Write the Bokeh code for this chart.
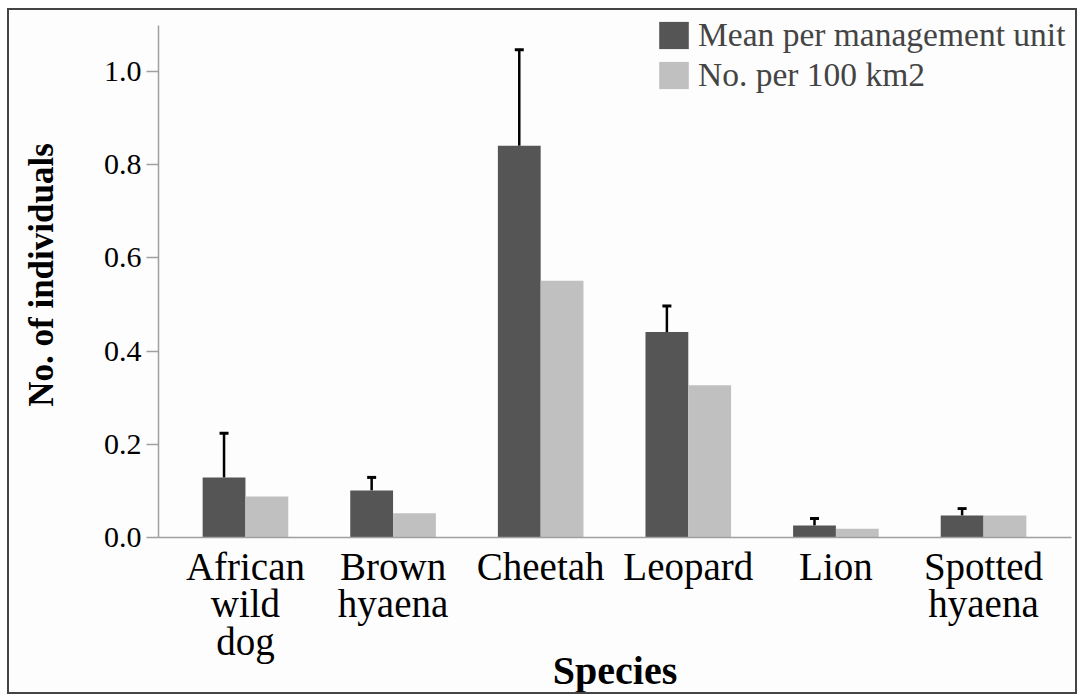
from bokeh.plotting import figure
from bokeh.models import (ColumnDataSource, FixedTicker, Legend, LegendItem, Whisker,
                          TeeHead, Range1d, PrintfTickFormatter)
from bokeh.transform import dodge
from bokeh.embed import file_html
from bokeh.resources import INLINE

# ---- data ----
species = ["African\nwild\ndog", "Brown\nhyaena", "Cheetah", "Leopard", "Lion", "Spotted\nhyaena"]
mean_per_unit = [0.129, 0.101, 0.841, 0.441, 0.026, 0.047]
mean_upper = [0.224, 0.129, 1.047, 0.497, 0.041, 0.062]
per_100km2 = [0.088, 0.052, 0.551, 0.327, 0.019, 0.047]
y_ticks = [0.0, 0.2, 0.4, 0.6, 0.8, 1.0]
series_names = ["Mean per management unit", "No. per 100 km2"]

DARK = "#555555"
LIGHT = "#c0c0c0"
AXIS = "#a0a0a0"
FONT = "Liberation Serif"

idx = list(range(len(species)))
src = ColumnDataSource(dict(x=idx, mean=mean_per_unit, upper=mean_upper, dens=per_100km2))

p = figure(width=1070, height=686, output_backend="svg", toolbar_location=None,
           x_range=Range1d(-0.589, 5.596), y_range=Range1d(0, 1.127),
           min_border_left=149, min_border_right=8, min_border_top=2, min_border_bottom=150)
p.styles = {"border": "2px solid #444444", "box-sizing": "border-box",
            "margin-left": "7px", "margin-top": "8px"}
p.background_fill_color = "#fdfdfd"
p.border_fill_color = "#fdfdfd"
p.outline_line_color = None
p.xgrid.visible = False
p.ygrid.visible = False

bw = 0.29
r1 = p.vbar(x=dodge("x", -0.145, range=p.x_range), top="mean", width=bw, bottom=0,
            source=src, fill_color=DARK, line_color=None)
r2 = p.vbar(x=dodge("x", 0.145, range=p.x_range), top="dens", width=bw, bottom=0,
            source=src, fill_color=LIGHT, line_color=None)

wh = Whisker(base=dodge("x", -0.145, range=p.x_range), lower="mean", upper="upper",
             dimension="height", source=src, line_color="black", line_width=2.5,
             lower_head=None,
             upper_head=TeeHead(size=9, line_color="black", line_width=3))
p.add_layout(wh)

# y axis
ya = p.yaxis[0]
ya.ticker = FixedTicker(ticks=y_ticks)
ya.bounds = (0, 1.1)
ya.formatter = PrintfTickFormatter(format="%.1f")
ya.axis_line_color = AXIS
ya.axis_line_width = 1.5
ya.major_tick_line_color = AXIS
ya.major_tick_line_width = 1.5
ya.major_tick_out = 12
ya.major_tick_in = 0
ya.minor_tick_line_color = None
ya.major_label_text_font = FONT
ya.major_label_text_font_size = "30px"
ya.major_label_text_color = "black"
ya.major_label_standoff = 5
ya.axis_label = "No. of individuals"
ya.axis_label_text_font = FONT
ya.axis_label_text_font_style = "bold"
ya.axis_label_text_font_size = "35px"
ya.axis_label_text_color = "black"
ya.axis_label_standoff = 40

# x axis
xa = p.xaxis[0]
xa.ticker = FixedTicker(ticks=idx)
xa.major_label_overrides = {i: s for i, s in zip(idx, species)}
xa.axis_line_color = AXIS
xa.axis_line_width = 1.5
xa.major_tick_line_color = None
xa.minor_tick_line_color = None
xa.major_tick_out = 0
xa.major_tick_in = 0
xa.major_label_text_font = FONT
xa.major_label_text_font_size = "39px"
xa.major_label_text_color = "black"
xa.major_label_text_line_height = 0.88
xa.major_label_standoff = 7
xa.axis_label = "Species"
xa.axis_label_text_font = FONT
xa.axis_label_text_font_style = "bold"
xa.axis_label_text_font_size = "40px"
xa.axis_label_text_color = "black"
xa.axis_label_standoff = -18

legend = Legend(items=[LegendItem(label=series_names[0], renderers=[r1]),
                       LegendItem(label=series_names[1], renderers=[r2])],
                location=(497, 443), label_text_font=FONT, label_text_font_size="33.5px",
                glyph_width=37, glyph_height=34, label_height=28, spacing=2,
                padding=0, margin=0, background_fill_alpha=0, border_line_color=None,
                label_standoff=6)
p.add_layout(legend)

open("out.html", "w").write(file_html(p, INLINE))
